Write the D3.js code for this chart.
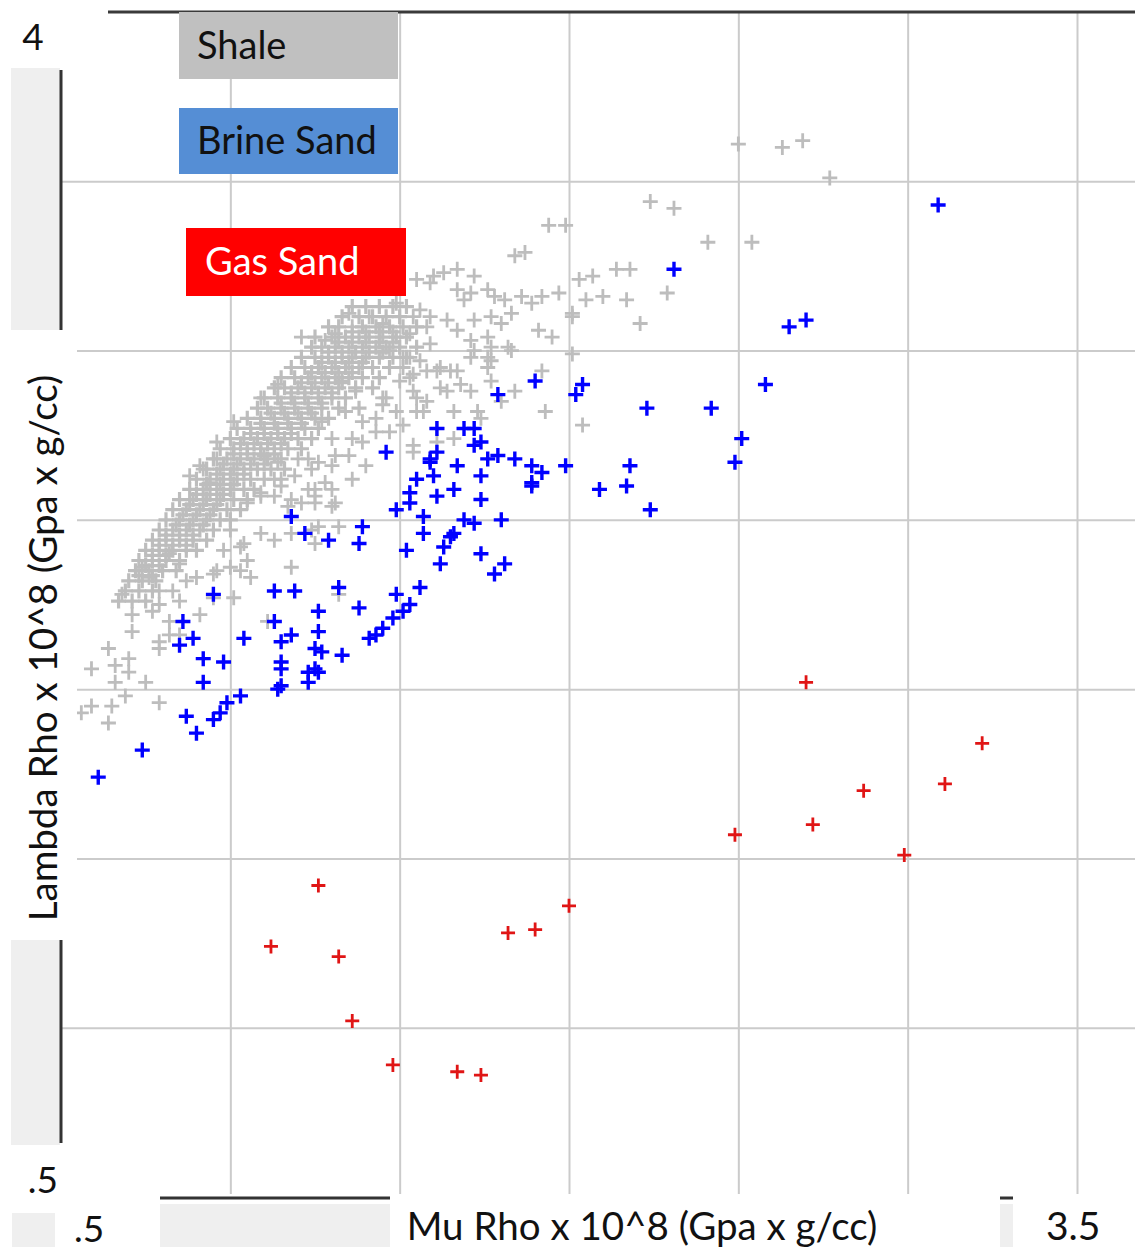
<!DOCTYPE html>
<html>

<head>
  <meta charset="utf-8">
  <title>Lambda Rho vs Mu Rho</title>
  <script src="https://d3js.org/d3.v7.min.js"></script>

  <style>
    body {
      margin: 0;
      background-color: white;
    }

    svg {
      display: block;
      font-family: Lato, "Liberation Sans", sans-serif;
    }

    .grid line {
      stroke: #cbcbcb;
      stroke-width: 2px;
    }

    .grid .domain {
      display: none;
    }
  </style>
</head>

<body>
  <svg id="chart" width="1135" height="1253"></svg>

  <script>
    // ----------- DATA -----------------------------------------------------
    const xGrid = [1.0, 1.5, 2.0, 2.5, 3.0, 3.5];
    const yGrid = [1.0, 1.5, 2.0, 2.5, 3.0, 3.5];

    const legendNames = ["Shale", "Brine Sand", "Gas Sand"];
    const legendFill = ["#c0c0c0", "#558ed5", "#ff0000"];
    const legendInk = ["#111111", "#111111", "#ffffff"];
    const markerColors = ["#bdbdbd", "#0000ff", "#e01515"];

    const yEndLabels = ["4", ".5"];
    const xEndLabels = [".5", "3.5"];
    const xTitle = "Mu Rho x 10^8 (Gpa x g/cc)";
    const yTitle = "Lambda Rho x 10^8 (Gpa x g/cc)";

    // shale: scattered points round the main cloud  [mu rho, lambda rho]
    const shaleScatter = [
      [2.50, 3.61], [2.63, 3.60], [2.69, 3.62], [2.77, 3.51], [2.24, 3.44], [2.31, 3.42], [1.94, 3.37], [1.99, 3.37],
      [2.41, 3.32], [2.54, 3.32], [1.87, 3.29], [1.84, 3.28], [1.67, 3.24], [1.63, 3.23], [1.60, 3.22], [1.55, 3.21],
      [1.59, 3.20], [1.72, 3.22], [2.03, 3.21], [2.07, 3.22], [2.14, 3.24], [2.18, 3.24], [2.29, 3.17], [2.17, 3.15],
      [2.10, 3.16], [2.05, 3.15], [1.97, 3.17], [1.92, 3.16], [1.89, 3.14], [1.86, 3.16], [1.81, 3.15], [1.76, 3.18],
      [1.67, 3.18], [1.69, 3.15], [1.71, 3.17], [1.78, 3.16], [1.49, 3.14], [2.21, 3.08], [2.01, 3.10], [1.91, 3.06],
      [1.95, 3.04], [1.82, 3.01], [1.83, 3.00], [2.01, 2.99], [1.92, 2.94], [1.72, 3.09], [1.67, 3.06], [1.64, 3.09],
      [1.77, 3.10], [1.83, 3.11], [1.80, 3.08], [1.76, 3.04], [1.71, 3.03], [1.59, 3.02], [1.56, 3.12], [1.54, 3.10],
      [1.59, 3.10], [1.58, 3.07], [1.53, 3.05], [1.71, 2.98], [1.76, 2.98], [1.76, 2.95], [1.62, 2.95], [1.65, 2.94],
      [1.67, 2.94], [1.51, 2.98], [1.47, 3.00], [1.45, 3.08], [2.04, 2.78],
      [1.36, 2.62], [1.43, 2.80], [1.54, 2.72], [1.66, 2.74], [1.57, 2.82], [1.64, 2.88], [1.68, 2.90], [1.77, 2.91],
      [1.73, 2.82], [1.93, 2.82], [1.72, 3.00], [1.77, 2.97], [2.01, 3.11], [1.61, 2.94], [1.54, 2.93], [1.55, 2.86],
      [1.45, 2.84], [1.43, 2.76], [1.31, 2.69], [1.24, 2.65], [1.18, 2.56], [1.09, 2.57], [1.13, 2.44], [1.24, 2.47],
      [1.30, 2.59], [1.25, 2.59], [1.18, 2.36], [1.09, 2.46], [1.03, 2.42], [1.00, 2.36], [0.95, 2.34], [0.90, 2.33],
      [1.35, 3.11], [1.41, 3.10], [1.21, 3.04], [1.28, 3.03], [1.31, 3.05], [1.36, 3.07], [1.53, 2.98], [1.47, 2.76],
      [1.55, 2.82], [1.45, 2.86], [1.39, 2.73], [1.28, 2.61], [1.23, 2.59], [1.15, 2.62], [1.14, 2.67], [1.20, 2.68],
      [1.26, 2.67], [1.30, 2.74], [1.35, 2.69], [1.61, 2.77],
      [0.59, 2.06], [0.64, 2.12], [0.66, 2.07], [0.70, 2.09], [0.70, 2.05], [0.66, 2.02], [0.75, 2.02], [0.56, 1.93],
      [0.59, 1.95], [0.65, 1.95], [0.69, 1.98], [0.64, 1.90], [0.79, 1.96], [0.71, 2.17], [0.71, 2.22], [0.68, 2.28],
      [0.79, 2.14], [0.79, 2.12], [0.82, 2.16], [0.85, 2.16], [0.82, 2.20], [0.77, 2.23], [0.79, 2.25], [0.85, 2.26],
      [0.83, 2.29], [0.79, 2.29], [0.76, 2.33], [0.74, 2.36], [0.77, 2.38], [0.82, 2.40], [0.85, 2.37], [0.87, 2.32],
      [0.91, 2.22], [0.95, 2.27], [0.96, 2.35], [1.01, 2.27], [0.98, 2.41], [1.00, 2.47], [1.04, 2.43], [1.05, 2.38],
      [1.03, 2.35], [1.06, 2.33], [1.18, 2.46], [1.26, 2.48], [1.32, 2.48], [1.25, 2.43], [1.13, 2.57], [1.25, 2.55],
      [1.31, 2.55], [1.15, 2.60], [1.05, 2.55], [1.09, 2.58], [1.13, 2.62], [1.19, 2.63], [1.10, 2.69], [1.23, 2.68],
      [0.94, 2.61], [0.88, 2.63], [0.92, 2.65], [0.91, 2.66], [0.96, 2.68], [1.11, 2.20], [1.32, 2.28],
      [1.46, 2.86], [1.49, 2.82], [1.54, 2.70], [1.30, 2.54], [1.25, 2.57], [1.21, 2.55], [1.17, 2.54], [1.58, 2.94],
      [1.62, 2.89], [1.71, 2.88], [1.66, 2.82], [1.74, 2.80], [1.84, 2.88], [1.80, 2.85], [1.77, 3.01], [1.53, 2.92],
      [1.54, 2.88], [1.58, 2.85], [1.61, 2.73], [1.33, 2.91], [1.37, 2.88], [1.34, 2.82], [1.39, 2.79], [1.50, 2.91],
      [1.51, 2.78], [1.36, 2.74], [1.27, 2.79], [1.30, 2.66], [1.40, 2.66],
      [0.96, 2.73], [1.01, 2.79], [1.09, 2.86], [1.14, 2.90], [1.56, 2.97], [1.51, 2.95]
    ];

    // shale: the dense band, read row by row
    const shaleCore = [
      [1.36, 3.13], [1.40, 3.13], [1.44, 3.13], [1.48, 3.13], [1.52, 3.13],
      [1.33, 3.10], [1.38, 3.10], [1.42, 3.10], [1.46, 3.10], [1.50, 3.10],
      [1.29, 3.07], [1.32, 3.07], [1.39, 3.07], [1.43, 3.07], [1.47, 3.07], [1.51, 3.07], [1.55, 3.07],
      [1.25, 3.04], [1.30, 3.04], [1.34, 3.04], [1.38, 3.04], [1.41, 3.04], [1.45, 3.04], [1.49, 3.04], [1.52, 3.04],
      [1.24, 3.01], [1.27, 3.01], [1.31, 3.01], [1.35, 3.01], [1.39, 3.01], [1.43, 3.01], [1.46, 3.01], [1.50, 3.01], [1.55, 3.01],
      [1.21, 2.98], [1.25, 2.98], [1.29, 2.98], [1.33, 2.98], [1.36, 2.98], [1.40, 2.98], [1.44, 2.98], [1.48, 2.98], [1.52, 2.98],
      [1.18, 2.95], [1.22, 2.95], [1.26, 2.95], [1.30, 2.95], [1.34, 2.95], [1.38, 2.95], [1.42, 2.95], [1.47, 2.95],
      [1.15, 2.92], [1.19, 2.92], [1.23, 2.92], [1.27, 2.92], [1.31, 2.92], [1.35, 2.92], [1.39, 2.92], [1.44, 2.92],
      [1.13, 2.89], [1.16, 2.89], [1.20, 2.89], [1.24, 2.89], [1.28, 2.89], [1.32, 2.89], [1.37, 2.89], [1.42, 2.89],
      [1.10, 2.86], [1.14, 2.86], [1.18, 2.86], [1.22, 2.86], [1.26, 2.86], [1.30, 2.86], [1.34, 2.86],
      [1.08, 2.83], [1.11, 2.83], [1.15, 2.83], [1.19, 2.83], [1.23, 2.83], [1.27, 2.83], [1.32, 2.83], [1.38, 2.83],
      [1.05, 2.80], [1.09, 2.80], [1.13, 2.80], [1.17, 2.80], [1.21, 2.80], [1.25, 2.80], [1.29, 2.80],
      [1.02, 2.77], [1.06, 2.77], [1.10, 2.77], [1.14, 2.77], [1.18, 2.77], [1.22, 2.77], [1.26, 2.77],
      [1.00, 2.74], [1.04, 2.74], [1.08, 2.74], [1.12, 2.74], [1.16, 2.74], [1.20, 2.74], [1.24, 2.74],
      [0.97, 2.71], [1.01, 2.71], [1.05, 2.71], [1.09, 2.71], [1.13, 2.71], [1.17, 2.71], [1.21, 2.71],
      [0.95, 2.68], [0.99, 2.68], [1.03, 2.68], [1.07, 2.68], [1.11, 2.68], [1.15, 2.68],
      [0.93, 2.65], [0.97, 2.65], [1.01, 2.65], [1.04, 2.65], [1.08, 2.65], [1.12, 2.65], [1.16, 2.65],
      [0.90, 2.62], [0.94, 2.62], [0.98, 2.62], [1.02, 2.62], [1.06, 2.62], [1.10, 2.62],
      [0.88, 2.59], [0.92, 2.59], [0.96, 2.59], [1.00, 2.59], [1.04, 2.59], [1.07, 2.59],
      [0.85, 2.56], [0.89, 2.56], [0.93, 2.56], [0.97, 2.56], [1.01, 2.56], [1.05, 2.56],
      [0.83, 2.53], [0.87, 2.53], [0.91, 2.53], [0.95, 2.53], [0.99, 2.53], [1.03, 2.53],
      [0.81, 2.50], [0.85, 2.50], [0.89, 2.50], [0.93, 2.50], [0.97, 2.50], [1.00, 2.50],
      [0.79, 2.47], [0.83, 2.47], [0.87, 2.47], [0.91, 2.47], [0.95, 2.47],
      [0.77, 2.44], [0.81, 2.44], [0.85, 2.44], [0.89, 2.44], [0.93, 2.44],
      [0.75, 2.41], [0.79, 2.41], [0.83, 2.41], [0.87, 2.41], [0.90, 2.41],
      [0.73, 2.38], [0.77, 2.38], [0.81, 2.38], [0.85, 2.38],
      [0.72, 2.35], [0.76, 2.35], [0.80, 2.35], [0.84, 2.35],
      [0.70, 2.32], [0.74, 2.32], [0.78, 2.32],
      [0.69, 2.29], [0.73, 2.29], [0.77, 2.29],
      [0.67, 2.26], [0.71, 2.26], [0.75, 2.26]
    ];

    // shale: the darkest ridge inside the band, between the rows above
    const shaleRidge = [
      [1.36, 3.055], [1.40, 3.055], [1.44, 3.055], [1.48, 3.055],
      [1.32, 3.025], [1.36, 3.025], [1.40, 3.025], [1.44, 3.025], [1.48, 3.025],
      [1.29, 2.995], [1.33, 2.995], [1.37, 2.995], [1.41, 2.995], [1.45, 2.995],
      [1.27, 2.965], [1.31, 2.965], [1.35, 2.965], [1.39, 2.965],
      [1.24, 2.935], [1.28, 2.935], [1.32, 2.935], [1.36, 2.935],
      [1.21, 2.905], [1.25, 2.905], [1.29, 2.905], [1.33, 2.905],
      [1.18, 2.875], [1.22, 2.875], [1.26, 2.875], [1.30, 2.875],
      [1.15, 2.845], [1.19, 2.845], [1.23, 2.845], [1.27, 2.845],
      [1.12, 2.815], [1.16, 2.815], [1.20, 2.815], [1.24, 2.815],
      [1.09, 2.785], [1.13, 2.785], [1.17, 2.785], [1.21, 2.785],
      [1.06, 2.755], [1.10, 2.755], [1.14, 2.755], [1.18, 2.755],
      [1.03, 2.725], [1.07, 2.725], [1.11, 2.725], [1.15, 2.725],
      [1.01, 2.695], [1.05, 2.695], [1.09, 2.695], [1.13, 2.695],
      [0.98, 2.665], [1.02, 2.665], [1.06, 2.665], [1.10, 2.665],
      [0.96, 2.635], [1.00, 2.635], [1.04, 2.635],
      [0.93, 2.605], [0.97, 2.605], [1.01, 2.605],
      [0.90, 2.575], [0.94, 2.575], [0.98, 2.575],
      [0.88, 2.545], [0.92, 2.545], [0.96, 2.545],
      [0.86, 2.515], [0.90, 2.515], [0.94, 2.515],
      [0.84, 2.485], [0.88, 2.485], [0.92, 2.485],
      [0.81, 2.455], [0.85, 2.455], [0.89, 2.455],
      [0.79, 2.425], [0.83, 2.425], [0.87, 2.425],
      [0.77, 2.395], [0.81, 2.395],
      [0.75, 2.365], [0.79, 2.365],
      [0.73, 2.335], [0.77, 2.335]
    ];

    const brineSand = [
      [3.09, 3.43], [2.31, 3.24], [2.65, 3.07], [2.70, 3.09], [2.04, 2.90], [2.02, 2.87], [2.58, 2.90], [2.23, 2.83],
      [2.42, 2.83], [2.51, 2.74], [2.49, 2.67], [1.99, 2.66], [2.18, 2.66], [2.09, 2.59], [2.17, 2.60], [2.24, 2.53],
      [1.90, 2.91], [1.79, 2.87], [1.61, 2.77], [1.69, 2.77], [1.72, 2.77], [1.74, 2.73], [1.72, 2.72], [1.61, 2.70],
      [1.59, 2.68], [1.59, 2.67], [1.76, 2.68], [1.79, 2.69], [1.84, 2.68], [1.89, 2.66], [1.92, 2.64], [1.67, 2.66],
      [1.60, 2.63], [1.74, 2.63], [1.55, 2.62], [1.89, 2.61], [1.89, 2.60], [1.53, 2.58], [1.53, 2.55], [1.66, 2.59],
      [1.61, 2.57], [1.74, 2.56], [1.49, 2.53], [1.57, 2.51], [1.46, 2.70], [1.69, 2.50], [1.72, 2.49], [1.80, 2.50],
      [1.18, 2.51], [1.22, 2.46], [1.29, 2.44], [1.39, 2.48], [1.38, 2.43], [1.52, 2.41], [1.57, 2.46], [1.65, 2.45],
      [1.66, 2.46], [1.63, 2.42], [1.62, 2.37], [1.74, 2.40], [1.81, 2.37], [1.78, 2.34], [1.32, 2.30], [1.19, 2.29],
      [1.56, 2.30], [1.49, 2.28], [1.13, 2.29], [0.95, 2.28], [1.26, 2.23], [1.38, 2.24], [0.86, 2.20], [0.89, 2.15],
      [1.04, 2.15], [1.13, 2.20], [1.26, 2.17], [1.18, 2.16], [1.15, 2.14], [1.53, 2.25], [1.51, 2.23], [1.48, 2.21],
      [1.45, 2.18], [1.43, 2.16], [1.41, 2.15], [0.85, 2.13], [1.25, 2.12], [1.27, 2.11], [1.33, 2.10], [0.92, 2.09],
      [0.98, 2.08], [1.15, 2.08], [1.15, 2.06], [1.25, 2.06], [1.23, 2.05], [1.26, 2.05], [0.92, 2.02], [1.15, 2.01],
      [1.14, 2.00], [1.23, 2.02], [1.03, 1.98], [0.99, 1.96], [0.97, 1.93], [0.95, 1.91], [0.87, 1.92], [0.90, 1.87],
      [0.74, 1.82], [0.61, 1.74]
    ];

    const gasSand = [
      [2.70, 2.02], [3.22, 1.84], [3.11, 1.72], [2.87, 1.70], [2.49, 1.57], [2.72, 1.60], [2.99, 1.51], [1.26, 1.42],
      [1.12, 1.24], [1.32, 1.21], [1.82, 1.28], [1.90, 1.29], [2.00, 1.36], [1.36, 1.02], [1.48, 0.89], [1.67, 0.87],
      [1.74, 0.86]
    ];

    // ----------- CHART ----------------------------------------------------
    const width = 1135;
    const svg = d3.select("#chart");

    const x = d3.scaleLinear().domain([0.5, 3.5]).range([61, 1077]);
    const y = d3.scaleLinear().domain([0.5, 4]).range([1197, 12]);

    const gridBottom = y(0.5) - 3;

    // vertical grid
    svg.append("g")
      .attr("class", "grid")
      .attr("transform", `translate(0,${gridBottom})`)
      .call(d3.axisBottom(x).tickValues(xGrid).tickSize(-(gridBottom - y(4))).tickFormat(""));

    // horizontal grid
    svg.append("g")
      .attr("class", "grid")
      .attr("transform", `translate(${x(0.5)},0)`)
      .call(d3.axisLeft(y).tickValues(yGrid).tickSize(-(width - x(0.5))).tickFormat(""));

    // top frame line
    svg.append("line")
      .attr("x1", 108).attr("x2", width)
      .attr("y1", y(4)).attr("y2", y(4))
      .attr("stroke", "#3a3a3a").attr("stroke-width", 3);

    // plus markers
    function drawPluses(data, color, arm, weight) {
      svg.append("g")
        .selectAll("path")
        .data(data)
        .join("path")
        .attr("transform", d => `translate(${x(d[0])},${y(d[1])})`)
        .attr("d", `M${-arm},0H${arm}M0,${-arm}V${arm}`)
        .attr("fill", "none")
        .attr("stroke", color)
        .attr("stroke-width", weight);
    }

    drawPluses(shaleCore, markerColors[0], 7.5, 3.2);
    drawPluses(shaleRidge, markerColors[0], 7.5, 3.2);
    drawPluses(shaleScatter, markerColors[0], 7.5, 2.8);
    drawPluses(brineSand, markerColors[1], 7.5, 3.4);
    drawPluses(gasSand, markerColors[2], 7, 2.8);

    // pasted-over patches on the left edge
    svg.append("rect").attr("x", 0).attr("y", 330).attr("width", 77).attr("height", 610).attr("fill", "white");

    const patch = "#efefef";
    const ink = "#333333";
    svg.append("rect").attr("x", 11).attr("y", 68).attr("width", 49).attr("height", 262).attr("fill", patch);
    svg.append("rect").attr("x", 11).attr("y", 940).attr("width", 49).attr("height", 205).attr("fill", patch);
    svg.append("line").attr("x1", 61).attr("x2", 61).attr("y1", 70).attr("y2", 330)
      .attr("stroke", ink).attr("stroke-width", 3);
    svg.append("line").attr("x1", 61).attr("x2", 61).attr("y1", 940).attr("y2", 1143)
      .attr("stroke", ink).attr("stroke-width", 3);

    // bottom edge pieces
    svg.append("line").attr("x1", 160).attr("x2", 390).attr("y1", 1198).attr("y2", 1198)
      .attr("stroke", ink).attr("stroke-width", 3);
    svg.append("rect").attr("x", 160).attr("y", 1204).attr("width", 230).attr("height", 43).attr("fill", patch);
    svg.append("line").attr("x1", 1000).attr("x2", 1013).attr("y1", 1198).attr("y2", 1198)
      .attr("stroke", ink).attr("stroke-width", 3);
    svg.append("rect").attr("x", 1000).attr("y", 1204).attr("width", 13).attr("height", 43).attr("fill", patch);
    svg.append("rect").attr("x", 12).attr("y", 1213).attr("width", 43).attr("height", 34).attr("fill", patch);

    // legend boxes
    const legendBoxes = [
      { x: 179, y: 12, w: 219, h: 67, tx: 197, ty: 59 },
      { x: 179, y: 108, w: 219, h: 66, tx: 197, ty: 154 },
      { x: 186, y: 228, w: 220, h: 68, tx: 205, ty: 275 }
    ];

    legendNames.forEach((name, i) => {
      const b = legendBoxes[i];
      svg.append("rect")
        .attr("x", b.x).attr("y", b.y)
        .attr("width", b.w).attr("height", b.h)
        .attr("fill", legendFill[i]);
      svg.append("text")
        .attr("x", b.tx).attr("y", b.ty)
        .attr("font-size", 38)
        .attr("fill", legendInk[i])
        .text(name);
    });

    // leftover end labels
    svg.append("text").attr("x", 33).attr("y", y(4) + 38)
      .attr("text-anchor", "middle").attr("font-size", 37).attr("fill", "#111").text(yEndLabels[0]);
    svg.append("text").attr("x", 58).attr("y", y(0.5) - 4)
      .attr("text-anchor", "end").attr("font-size", 37).attr("fill", "#111").text(yEndLabels[1]);
    svg.append("text").attr("x", 74).attr("y", 1242)
      .attr("font-size", 37).attr("fill", "#111").text(xEndLabels[0]);
    svg.append("text").attr("x", 1046).attr("y", 1240)
      .attr("font-size", 39).attr("fill", "#111").text(xEndLabels[1]);

    // axis titles
    svg.append("text")
      .attr("x", 642).attr("y", 1240)
      .attr("text-anchor", "middle")
      .attr("font-size", 38.5)
      .attr("fill", "#111")
      .text(xTitle);

    svg.append("text")
      .attr("transform", "translate(57,648) rotate(-90)")
      .attr("text-anchor", "middle")
      .attr("font-size", 38.5)
      .attr("fill", "#111")
      .text(yTitle);
  </script>

</body>

</html>
